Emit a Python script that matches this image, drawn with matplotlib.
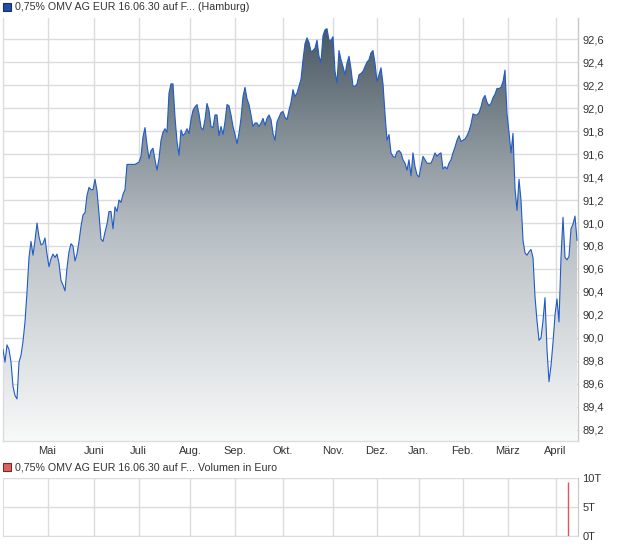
import numpy as np
import matplotlib
matplotlib.use("Agg")
import matplotlib.pyplot as plt
from matplotlib.colors import LinearSegmentedColormap
from matplotlib.patches import Rectangle

plt.rcParams['font.family'] = ['Liberation Sans', 'DejaVu Sans']

# ---------------- data ----------------
price_title = "0,75% OMV AG EUR 16.06.30 auf F... (Hamburg)"
volume_title = "0,75% OMV AG EUR 16.06.30 auf F... Volumen in Euro"

prices = [
    89.90, 89.79, 89.94, 89.90, 89.79, 89.58, 89.50, 89.47, 89.79, 89.85,
    89.97, 90.14, 90.40, 90.70, 90.84, 90.72, 90.85, 91.00, 90.88, 90.81,
    90.82, 90.87, 90.73, 90.62, 90.69, 90.73, 90.70, 90.73, 90.65, 90.50,
    90.46, 90.41, 90.61, 90.75, 90.82, 90.80, 90.67, 90.73, 90.84, 90.97,
    91.07, 91.09, 91.24, 91.31, 91.29, 91.29, 91.38, 91.28, 91.08, 90.86,
    90.84, 90.92, 90.99, 91.10, 91.10, 90.95, 91.14, 91.10, 91.20, 91.18,
    91.25, 91.29, 91.51, 91.51, 91.51, 91.51, 91.51, 91.52, 91.53, 91.58,
    91.75, 91.83, 91.68, 91.56, 91.63, 91.65, 91.55, 91.46, 91.56, 91.72,
    91.79, 91.82, 91.79, 92.13, 92.21, 92.21, 91.92, 91.71, 91.59, 91.81,
    91.76, 91.78, 91.82, 91.78, 91.90, 91.98, 92.01, 92.03, 91.95, 91.83,
    91.81, 91.90, 92.04, 91.98, 91.84, 91.83, 91.94, 91.94, 91.76, 91.84,
    91.77, 91.88, 92.03, 92.02, 91.94, 91.84, 91.77, 91.69, 91.78, 91.91,
    92.10, 92.18, 92.08, 92.03, 91.94, 91.84, 91.87, 91.87, 91.84, 91.87,
    91.91, 91.85, 91.91, 91.94, 91.90, 91.78, 91.72, 91.88, 91.92, 91.96,
    91.97, 91.92, 91.90, 91.98, 92.05, 92.16, 92.10, 92.13, 92.19, 92.25,
    92.42, 92.56, 92.61, 92.57, 92.49, 92.50, 92.52, 92.59, 92.45, 92.40,
    92.63, 92.68, 92.69, 92.59, 92.59, 92.62, 92.32, 92.22, 92.50, 92.42,
    92.36, 92.29, 92.39, 92.45, 92.34, 92.19, 92.19, 92.21, 92.29, 92.30,
    92.32, 92.36, 92.40, 92.42, 92.48, 92.50, 92.39, 92.23, 92.29, 92.35,
    92.21, 91.95, 91.72, 91.77, 91.61, 91.58, 91.57, 91.62, 91.63, 91.61,
    91.55, 91.52, 91.46, 91.55, 91.41, 91.61, 91.49, 91.42, 91.40, 91.49,
    91.58, 91.55, 91.52, 91.52, 91.52, 91.56, 91.61, 91.58, 91.60, 91.61,
    91.47, 91.49, 91.47, 91.52, 91.55, 91.61, 91.66, 91.72, 91.76, 91.71,
    91.72, 91.73, 91.76, 91.80, 91.86, 91.95, 91.94, 91.94, 91.96, 92.01,
    92.08, 92.11, 92.05, 92.02, 92.04, 92.09, 92.12, 92.17, 92.17, 92.18,
    92.23, 92.33, 91.95, 91.79, 91.61, 91.78, 91.30, 91.11, 91.38, 91.20,
    90.85, 90.74, 90.72, 90.75, 90.77, 90.70, 90.36, 90.15, 89.98, 90.00,
    90.15, 90.35, 89.90, 89.62, 89.76, 89.96, 90.20, 90.34, 90.14, 90.70,
    91.05, 90.70, 90.68, 90.71, 90.95, 90.99, 91.06, 90.85,
]

month_labels = ["Mai", "Juni", "Juli", "Aug.", "Sep.", "Okt.", "Nov.",
                "Dez.", "Jan.", "Feb.", "März", "April"]
month_starts = [22.25, 45.5, 67.75, 93.5, 115.75, 139.75, 165.0,
                186.75, 207.75, 229.75, 252.25, 276.25]

price_ticks = [89.2, 89.4, 89.6, 89.8, 90.0, 90.2, 90.4, 90.6, 90.8,
               91.0, 91.2, 91.4, 91.6, 91.8, 92.0, 92.2, 92.4, 92.6]

volume_days = [282.5]
volume_eur = [9300]
volume_ticks = [0, 5000, 10000]
volume_tick_labels = ["0T", "5T", "10T"]

# ---------------- figure ----------------
W, H = 620, 546
fig = plt.figure(figsize=(W / 100, H / 100), dpi=100)
fig.patch.set_facecolor("white")

def px_axes(left, top, right, bottom):
    return fig.add_axes([left / W, 1 - bottom / H, (right - left) / W, (bottom - top) / H])

ax = px_axes(3, 18, 578, 441)
axv = px_axes(3, 478, 578, 536)

x = np.arange(len(prices))
y = np.array(prices)
xmin, xmax = 0, len(prices) - 0.5
ymin, ymax = 89.104, 92.783

grid_c = "#dcdcdc"
text_c = "#333333"

# main panel
ax.set_xlim(xmin, xmax)
ax.set_ylim(ymin, ymax)
ax.set_yticks(price_ticks)
ax.set_yticklabels([f"{v:.1f}".replace(".", ",") for v in price_ticks])
ax.set_xticks(month_starts)
ax.set_xticklabels(month_labels)
ax.yaxis.tick_right()
ax.tick_params(axis="both", length=0, labelsize=8, colors=text_c)
ax.tick_params(axis="y", pad=3)
ax.tick_params(axis="x", pad=3.5)
ax.grid(True, color=grid_c, linewidth=1.0)
ax.set_axisbelow(True)
ax.spines["top"].set_visible(False)
for s in ["left", "bottom"]:
    ax.spines[s].set_color(grid_c)
    ax.spines[s].set_linewidth(1.0)
ax.spines["right"].set_color("#c8c8c8")
ax.spines["right"].set_linewidth(1.0)

cmap = LinearSegmentedColormap.from_list("g", ["#f8f9f9", "#b7bec3", "#44535d"])
grad = np.linspace(0, 1, 256).reshape(-1, 1)
poly = ax.fill_between(x, y, ymin, facecolor="none", edgecolor="none")
im = ax.imshow(grad, extent=[xmin, xmax, ymin, ymax], origin="lower",
               aspect="auto", cmap=cmap, zorder=2, interpolation="bilinear")
im.set_clip_path(poly.get_paths()[0], transform=ax.transData)
ax.plot(x, y, color="#1f5bc8", linewidth=0.8, zorder=3)

# volume panel
axv.set_xlim(xmin, xmax)
axv.set_ylim(0, 10000)
axv.set_yticks(volume_ticks)
axv.set_yticklabels(volume_tick_labels)
axv.set_xticks(month_starts)
axv.set_xticklabels([])
axv.yaxis.tick_right()
axv.tick_params(axis="both", length=0, labelsize=8, colors=text_c)
axv.tick_params(axis="y", pad=3)
axv.grid(True, color=grid_c, linewidth=1.0)
axv.set_axisbelow(True)
axv.spines["top"].set_visible(False)
for s in ["left", "bottom"]:
    axv.spines[s].set_color(grid_c)
axv.spines["right"].set_color("#c8c8c8")
axv.vlines(volume_days, 0, volume_eur, color="#e05555", linewidth=1.0, zorder=3)

# legend headers
def header(ypx, color, edge, text):
    fig.patches.append(Rectangle((3 / W, 1 - (ypx + 4) / H), 8 / W, 8 / H,
                                 transform=fig.transFigure, facecolor=color,
                                 edgecolor=edge, linewidth=0.8))
    fig.text(15 / W, 1 - ypx / H, text, fontsize=7.7, color=text_c, va="center", ha="left")

header(7, "#1f4fa8", "#1a2f60", price_title)
header(467, "#d9655f", "#7a2a26", volume_title)

fig.savefig("out.png", dpi=100, facecolor="white")
